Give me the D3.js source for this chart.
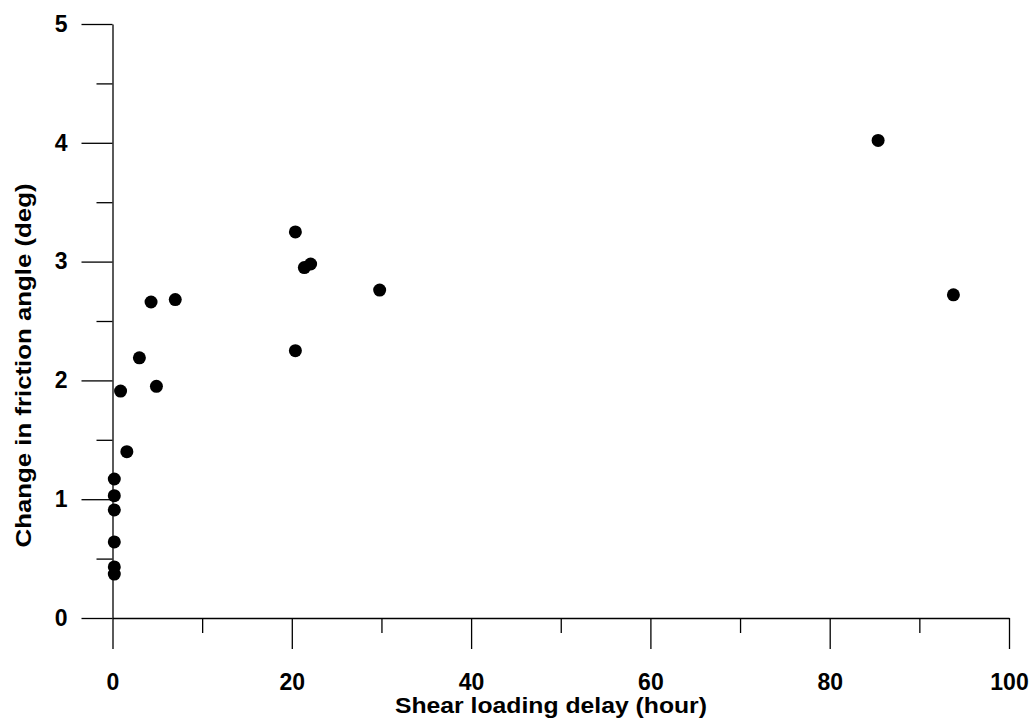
<!DOCTYPE html>
<html>
<head>
<meta charset="utf-8">
<script src="https://cdn.jsdelivr.net/npm/d3@7"></script>
<style>
	body { margin: 0; background: #fff; }
	text { font-family: "Liberation Sans", Arial, sans-serif; font-weight: bold; }
</style>
</head>
<body>
<svg id="chart"></svg>
<script>
const WIDTH = 1031,
	HEIGHT = 718;

// data
const delayHours = [0.2, 0.2, 0.2, 0.2, 0.2, 0.2, 0.9, 1.6, 3.0, 4.3, 4.9, 7.0,
		20.4, 20.4, 21.4, 22.1, 29.8, 85.4, 93.8],
	frictionChange = [0.37, 0.43, 0.64, 0.91, 1.03, 1.17, 1.91, 1.40, 2.19, 2.66, 1.95, 2.68,
		3.25, 2.25, 2.95, 2.98, 2.76, 4.02, 2.72],
	xMajorTicks = [0, 20, 40, 60, 80, 100],
	xMinorTicks = [10, 30, 50, 70, 90],
	yMajorTicks = [0, 1, 2, 3, 4, 5],
	yMinorTicks = [0.5, 1.5, 2.5, 3.5, 4.5];

const points = delayHours.map((d, i) => ({ x: d, y: frictionChange[i] }));

const svg = d3.select('svg#chart')
	.attr('width', WIDTH)
	.attr('height', HEIGHT);

const x = d3.scaleLinear().domain([0, 100]).range([112.5, 1009]),
	y = d3.scaleLinear().domain([0, 5]).range([618, 24]);

// axes
const xMinor = svg.append('g')
	.attr('transform', `translate(0,${y(0)})`)
	.call(d3.axisBottom(x).tickValues(xMinorTicks).tickSize(15).tickFormat(''));
const xMajor = svg.append('g')
	.attr('transform', `translate(0,${y(0)})`)
	.call(d3.axisBottom(x).tickValues(xMajorTicks).tickSize(31).tickSizeOuter(0)
		.tickPadding(25).tickFormat(d3.format('d')));

const yMinor = svg.append('g')
	.attr('transform', `translate(${x(0)},0)`)
	.call(d3.axisLeft(y).tickValues(yMinorTicks).tickSize(16).tickFormat(''));
const yMajor = svg.append('g')
	.attr('transform', `translate(${x(0)},0)`)
	.call(d3.axisLeft(y).tickValues(yMajorTicks).tickSize(31).tickSizeOuter(0)
		.tickPadding(14).tickFormat(d3.format('d')));

[xMinor, xMajor, yMinor, yMajor].forEach(g => {
	g.selectAll('path, line').attr('stroke', '#000').attr('stroke-width', 1.3);
	g.selectAll('text')
		.attr('fill', '#000')
		.style('font-size', '23px')
		.style('font-family', '"Liberation Sans", Arial, sans-serif')
		.style('font-weight', 'bold');
});
xMinor.select('path.domain').remove();
yMinor.select('path.domain').remove();

// axis titles
svg.append('text')
	.attr('x', 551)
	.attr('y', 713)
	.attr('text-anchor', 'middle')
	.attr('textLength', 312)
	.attr('lengthAdjust', 'spacingAndGlyphs')
	.style('font-size', '21.5px')
	.text('Shear loading delay (hour)');

svg.append('text')
	.attr('transform', 'translate(31,365.5) rotate(-90)')
	.attr('text-anchor', 'middle')
	.attr('textLength', 364)
	.attr('lengthAdjust', 'spacingAndGlyphs')
	.style('font-size', '22.5px')
	.text('Change in friction angle (deg)');

// points
svg.append('g').selectAll('circle')
	.data(points)
	.enter().append('circle')
	.attr('cx', d => x(d.x))
	.attr('cy', d => y(d.y))
	.attr('r', 6.5)
	.attr('fill', '#000');
</script>
</body>
</html>
